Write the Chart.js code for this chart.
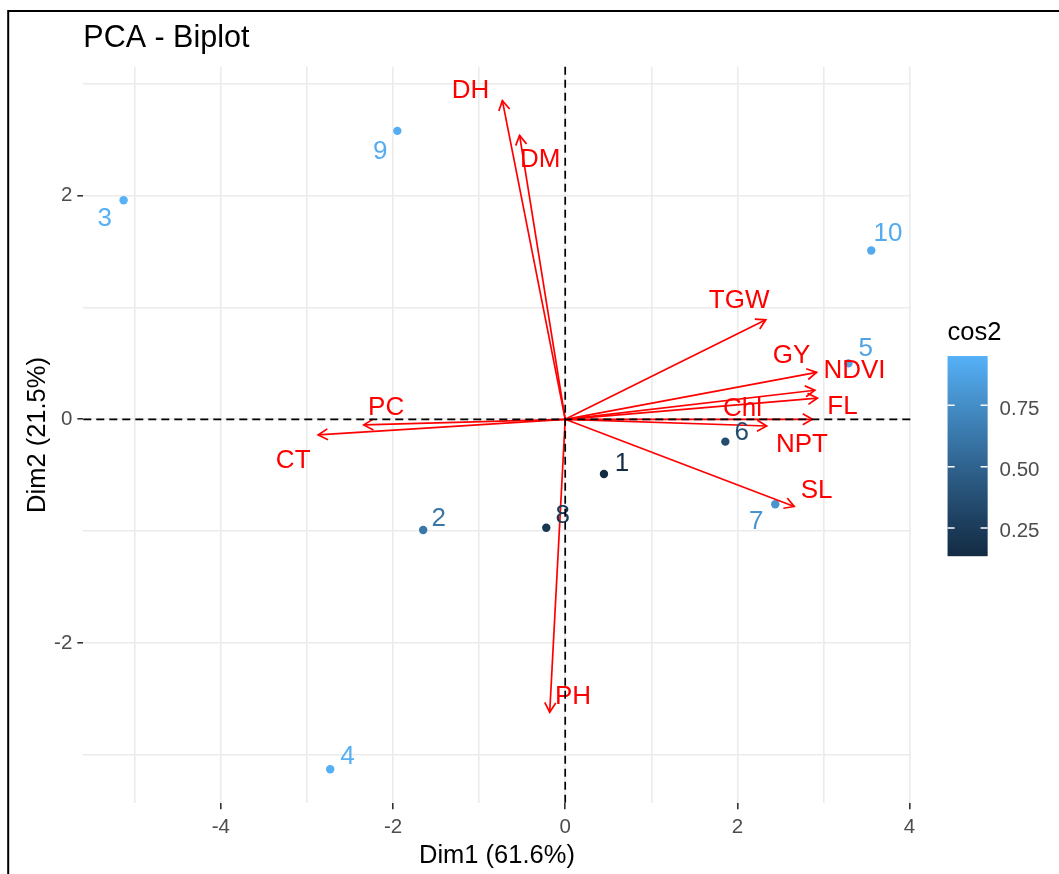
<!DOCTYPE html>
<html>
<head>
<meta charset="utf-8">
<title>PCA - Biplot</title>
<script src="https://cdn.jsdelivr.net/npm/chart.js@4/dist/chart.umd.min.js"></script>
<style>
  html, body { margin: 0; padding: 0; background: #ffffff; }
  canvas { display: block; }
</style>
</head>
<body>
<canvas id="biplot" width="1059" height="874"></canvas>
<script>
// ---- Individuals (scores on Dim1 / Dim2) ----
const indNames = ['1', '2', '3', '4', '5', '6', '7', '8', '9', '10'];
const indDim1 = [0.45, -1.65, -5.13, -2.73, 3.29, 1.86, 2.44, -0.22, -1.95, 3.555];
const indDim2 = [-0.49, -0.99, 1.96, -3.13, 0.50, -0.20, -0.76, -0.97, 2.58, 1.51];
const indCos2 = [0.136, 0.62, 0.951, 0.94, 0.87, 0.36, 0.79, 0.22, 0.93, 0.92];
// repelled label anchors for the individuals
const indLabelDim1 = [0.66, -1.47, -5.35, -2.53, 3.49, 2.05, 2.22, -0.03, -2.15, 3.75];
const indLabelDim2 = [-0.38, -0.875, 1.81, -3.00, 0.65, -0.10, -0.90, -0.84, 2.415, 1.68];

// ---- Variables (loadings, scaled to the score space) ----
const varNames = ['DH', 'DM', 'TGW', 'GY', 'NDVI', 'FL', 'Chl', 'NPT', 'SL', 'PC', 'CT', 'PH'];
const varDim1 = [-0.73, -0.53, 2.33, 2.92, 2.90, 2.93, 2.34, 2.87, 2.66, -2.34, -2.87, -0.18];
const varDim2 = [2.85, 2.54, 0.89, 0.42, 0.26, 0.19, -0.06, 0.00, -0.78, -0.05, -0.14, -2.62];
// repelled label anchors for the variables
const varLabelDim1 = [-1.10, -0.29, 2.02, 2.63, 3.36, 3.22, 2.06, 2.75, 2.92, -2.08, -3.16, 0.09];
const varLabelDim2 = [2.96, 2.34, 1.08, 0.59, 0.455, 0.13, 0.11, -0.21, -0.62, 0.125, -0.35, -2.46];

// ---- Axes ----
const xLimits = [-5.598, 4.012];
const yLimits = [-3.435, 3.154];
const xTitle = 'Dim1 (61.6%)';
const yTitle = 'Dim2 (21.5%)';
const legendTitle = 'cos2';
const legendTicks = [0.25, 0.50, 0.75];

const FONT = "'Liberation Sans', Arial, Helvetica, sans-serif";
const ARROW_RED = '#FF0000';

// ---- continuous colour scale (low -> high, interpolated in CIELAB) ----
const LOW = [0x13, 0x2B, 0x43];
const HIGH = [0x56, 0xB1, 0xF7];
function toLin(c) { c /= 255; return c <= 0.04045 ? c / 12.92 : Math.pow((c + 0.055) / 1.055, 2.4); }
function fromLin(c) { const v = c <= 0.0031308 ? 12.92 * c : 1.055 * Math.pow(c, 1 / 2.4) - 0.055; return Math.max(0, Math.min(255, Math.round(v * 255))); }
const WHITE = [0.95047, 1.0, 1.08883];
function rgb2lab(rgb) {
  const [r, g, b] = rgb.map(toLin);
  const xyz = [0.4124 * r + 0.3576 * g + 0.1805 * b, 0.2126 * r + 0.7152 * g + 0.0722 * b, 0.0193 * r + 0.1192 * g + 0.9505 * b];
  const f = xyz.map((t, i) => { t /= WHITE[i]; return t > 0.008856 ? Math.cbrt(t) : 7.787 * t + 16 / 116; });
  return [116 * f[1] - 16, 500 * (f[0] - f[1]), 200 * (f[1] - f[2])];
}
function lab2rgb(lab) {
  const fy = (lab[0] + 16) / 116, fx = fy + lab[1] / 500, fz = fy - lab[2] / 200;
  const inv = t => (t * t * t > 0.008856 ? t * t * t : (t - 16 / 116) / 7.787);
  const X = inv(fx) * WHITE[0], Y = inv(fy) * WHITE[1], Z = inv(fz) * WHITE[2];
  const r = 3.2406 * X - 1.5372 * Y - 0.4986 * Z;
  const g = -0.9689 * X + 1.8758 * Y + 0.0415 * Z;
  const b = 0.0557 * X - 0.2040 * Y + 1.0570 * Z;
  return [fromLin(r), fromLin(g), fromLin(b)];
}
const LAB_LOW = rgb2lab(LOW), LAB_HIGH = rgb2lab(HIGH);
const cosMin = Math.min(...indCos2), cosMax = Math.max(...indCos2);
function cosColor(v) {
  const t = Math.max(0, Math.min(1, (v - cosMin) / (cosMax - cosMin)));
  const lab = LAB_LOW.map((l, i) => l + (LAB_HIGH[i] - l) * t);
  const c = lab2rgb(lab);
  return `rgb(${c[0]},${c[1]},${c[2]})`;
}
const indColors = indCos2.map(cosColor);

// ---- datasets ----
const datasets = [];
varNames.forEach((name, i) => {
  datasets.push({
    label: name,
    data: [{ x: 0, y: 0 }, { x: varDim1[i], y: varDim2[i] }],
    showLine: true,
    borderColor: ARROW_RED,
    borderWidth: 1.7,
    pointRadius: 0,
    fill: false,
    order: 0
  });
});
datasets.push({
  label: 'individuals',
  data: indDim1.map((x, i) => ({ x: x, y: indDim2[i] })),
  pointRadius: 4.2,
  pointBackgroundColor: indColors,
  pointBorderWidth: 0,
  borderWidth: 0,
  order: 1
});

function isEven(v) { const r = Math.round(v); return Math.abs(v - r) < 1e-6 && r % 2 === 0; }

// ---- plugin: frame, arrowheads, text labels, reference lines, colour bar ----
const biplotDecor = {
  id: 'biplotDecor',
  beforeDraw(chart) {
    const ctx = chart.ctx;
    ctx.save();
    ctx.fillStyle = '#ffffff';
    ctx.fillRect(0, 0, chart.width, chart.height);
    ctx.strokeStyle = '#000000';
    ctx.lineWidth = 2;
    ctx.beginPath();
    ctx.moveTo(8.2, chart.height + 2);
    ctx.lineTo(8.2, 11);
    ctx.lineTo(chart.width + 2, 11);
    ctx.stroke();
    ctx.restore();
  },
  afterDatasetsDraw(chart) {
    const ctx = chart.ctx;
    const xs = chart.scales.x, ys = chart.scales.y;
    const area = chart.chartArea;
    ctx.save();

    // individual labels
    ctx.font = `26px ${FONT}`;
    ctx.textAlign = 'center';
    ctx.textBaseline = 'alphabetic';
    indNames.forEach((n, i) => {
      ctx.fillStyle = indColors[i];
      ctx.fillText(n, xs.getPixelForValue(indLabelDim1[i]), ys.getPixelForValue(indLabelDim2[i]) + 0.358 * 26);
    });

    // arrowheads
    ctx.strokeStyle = ARROW_RED;
    ctx.lineWidth = 1.7;
    const headLen = 11, headAng = Math.PI / 6;
    const ox = xs.getPixelForValue(0), oy = ys.getPixelForValue(0);
    varNames.forEach((n, i) => {
      const tx = xs.getPixelForValue(varDim1[i]), ty = ys.getPixelForValue(varDim2[i]);
      const ang = Math.atan2(ty - oy, tx - ox);
      ctx.beginPath();
      ctx.moveTo(tx - headLen * Math.cos(ang - headAng), ty - headLen * Math.sin(ang - headAng));
      ctx.lineTo(tx, ty);
      ctx.lineTo(tx - headLen * Math.cos(ang + headAng), ty - headLen * Math.sin(ang + headAng));
      ctx.stroke();
    });

    // variable labels
    ctx.fillStyle = ARROW_RED;
    varNames.forEach((n, i) => {
      ctx.fillText(n, xs.getPixelForValue(varLabelDim1[i]), ys.getPixelForValue(varLabelDim2[i]) + 0.358 * 26);
    });

    // dashed reference lines through the origin
    ctx.strokeStyle = '#000000';
    ctx.lineWidth = 1.7;
    ctx.setLineDash([8, 5]);
    ctx.beginPath();
    ctx.moveTo(ox, area.top);
    ctx.lineTo(ox, area.bottom);
    ctx.moveTo(area.left, oy);
    ctx.lineTo(area.right, oy);
    ctx.stroke();
    ctx.setLineDash([]);
    ctx.restore();
  },
  afterDraw(chart) {
    const ctx = chart.ctx;
    const area = chart.chartArea;
    const barLeft = area.right + 37, barW = 40;
    const barTop = 356, barH = 200, barBottom = barTop + barH;
    ctx.save();
    // legend title
    ctx.fillStyle = '#000000';
    ctx.font = `25.5px ${FONT}`;
    ctx.textAlign = 'left';
    ctx.textBaseline = 'alphabetic';
    ctx.fillText(legendTitle, barLeft, 340);
    // colour bar
    for (let py = 0; py < barH; py++) {
      const v = cosMin + (cosMax - cosMin) * (1 - (py + 0.5) / barH);
      ctx.fillStyle = cosColor(v);
      ctx.fillRect(barLeft, barTop + py, barW, 1.2);
    }
    // ticks and labels
    ctx.font = `20.5px ${FONT}`;
    legendTicks.forEach(v => {
      const y = barBottom - (v - cosMin) / (cosMax - cosMin) * barH;
      ctx.strokeStyle = '#ffffff';
      ctx.lineWidth = 1.5;
      ctx.beginPath();
      ctx.moveTo(barLeft, y); ctx.lineTo(barLeft + 7, y);
      ctx.moveTo(barLeft + barW - 7, y); ctx.lineTo(barLeft + barW, y);
      ctx.stroke();
      ctx.fillStyle = '#4D4D4D';
      ctx.fillText(v.toFixed(2), barLeft + 52, y + 0.358 * 20.5 + 2);
    });
    ctx.restore();
  }
};

const tickFont = { family: FONT, size: 20.5 };
const titleFont = { family: FONT, size: 25.5 };

new Chart(document.getElementById('biplot'), {
  type: 'scatter',
  data: { datasets: datasets },
  options: {
    responsive: false,
    animation: false,
    devicePixelRatio: 1,
    events: [],
    layout: { padding: { left: 0, right: 148.4, top: 0, bottom: 0 } },
    plugins: {
      legend: { display: false },
      tooltip: { enabled: false },
      title: {
        display: true,
        text: 'PCA - Biplot',
        align: 'start',
        fullSize: false,
        color: '#000000',
        font: { family: FONT, size: 30.5, weight: 'normal' },
        padding: { top: 20.7, bottom: 9.4 }
      }
    },
    scales: {
      x: {
        type: 'linear',
        min: xLimits[0],
        max: xLimits[1],
        border: { display: false },
        grid: {
          color: '#EBEBEB',
          lineWidth: 1.6,
          tickLength: 6,
          tickWidth: 1.6,
          tickColor: c => (c.tick && isEven(c.tick.value) ? '#333333' : 'rgba(0,0,0,0)')
        },
        ticks: {
          stepSize: 1,
          includeBounds: false,
          autoSkip: false,
          maxRotation: 0,
          padding: 6,
          color: '#4D4D4D',
          font: tickFont,
          callback: v => (isEven(v) ? String(Math.round(v)) : '')
        },
        title: { display: true, text: xTitle, color: '#000000', font: titleFont, padding: { top: 0, bottom: 3 } },
        afterFit: s => { s.height = 70.7; }
      },
      y: {
        type: 'linear',
        min: yLimits[0],
        max: yLimits[1],
        border: { display: false },
        grid: {
          color: '#EBEBEB',
          lineWidth: 1.6,
          tickLength: 6,
          tickWidth: 1.6,
          tickColor: c => (c.tick && isEven(c.tick.value) ? '#333333' : 'rgba(0,0,0,0)')
        },
        ticks: {
          stepSize: 1,
          includeBounds: false,
          autoSkip: false,
          padding: 5,
          color: '#4D4D4D',
          font: tickFont,
          callback: v => (isEven(v) ? String(Math.round(v)) : '')
        },
        title: { display: true, text: yTitle, color: '#000000', font: titleFont, padding: { top: 23, bottom: 0 } },
        afterFit: s => { s.width = 83.3; }
      }
    }
  },
  plugins: [biplotDecor]
});
</script>
</body>
</html>
